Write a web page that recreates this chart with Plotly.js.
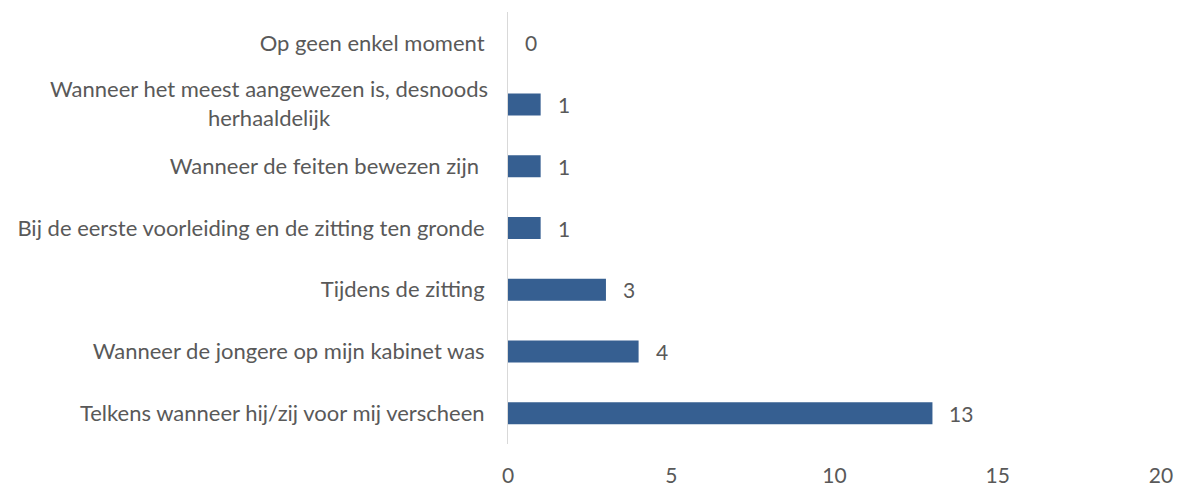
<!DOCTYPE html>
<html>
<head>
<meta charset="utf-8">
<script src="https://cdn.plot.ly/plotly-3.0.1.min.js"></script>
<style>html,body{margin:0;padding:0;background:#fff;}#chart{width:1181px;height:486px;}</style>
</head>
<body>
<div id="chart"></div>
<script>
const categories = [
  "Op geen enkel moment",
  "Wanneer het meest aangewezen is, desnoods<br>herhaaldelijk",
  "Wanneer de feiten bewezen zijn ",
  "Bij de eerste voorleiding en de zitting ten gronde",
  "Tijdens de zitting",
  "Wanneer de jongere op mijn kabinet was",
  "Telkens wanneer hij/zij voor mij verscheen"
];
const values = [0, 1, 1, 1, 3, 4, 13];
const xTicks = [0, 5, 10, 15, 20];

const fontFam = "Lato, sans-serif";
const textColor = "#595959";
const fs = 22;
const numFs = 21;

const trace = {
  type: "bar",
  orientation: "h",
  x: values,
  y: categories,
  marker: {color: "#365F91"},
  hoverinfo: "skip"
};

const annotations = values.map((v, i) => ({
  x: v, y: categories[i], xref: "x", yref: "y",
  text: String(v), showarrow: false, xanchor: "left", yanchor: "middle",
  xshift: 15, font: {family: fontFam, size: numFs, color: textColor}
}));

// multi-line category labels drawn centred, like the original
const tickText = categories.map(c => c.includes("<br>") ? "" : c);
categories.forEach(c => {
  if (c.includes("<br>")) {
    annotations.push({
      x: 0, y: c, xref: "paper", yref: "y", text: c, showarrow: false,
      xanchor: "right", yanchor: "middle", align: "center", xshift: -18,
      yshift: 2,
      font: {family: fontFam, size: fs, color: textColor}
    });
  }
});

const layout = {
  width: 1181, height: 486,
  margin: {l: 508, r: 20, t: 12, b: 42},
  paper_bgcolor: "#fff", plot_bgcolor: "#fff",
  bargap: 0.643,
  showlegend: false,
  font: {family: fontFam, size: fs, color: textColor},
  xaxis: {
    range: [0, 20], tickvals: xTicks, ticktext: xTicks.map(String),
    tickfont: {size: numFs},
    showgrid: false, zeroline: false, showline: false, ticks: "",
    ticklabelstandoff: 17, fixedrange: true
  },
  yaxis: {
    type: "category", autorange: "reversed",
    tickvals: categories, ticktext: tickText,
    showline: true, linecolor: "#d9d9d9", linewidth: 1,
    showgrid: false, zeroline: false, ticks: "",
    ticklabelstandoff: 18, fixedrange: true
  },
  annotations: annotations
};

Plotly.newPlot("chart", [trace], layout, {staticPlot: true, displayModeBar: false});
</script>
</body>
</html>
